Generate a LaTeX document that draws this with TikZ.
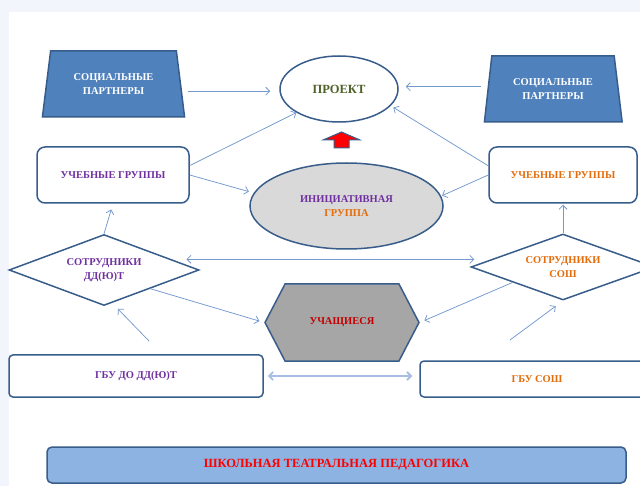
\documentclass[tikz,border=0pt]{standalone}
\usepackage{fontspec}
\setmainfont{Liberation Serif}
\usetikzlibrary{arrows.meta,shapes.geometric,shapes.symbols}
\definecolor{edgeblue}{HTML}{385D8A}
\definecolor{linkblue}{HTML}{7499CF}
\definecolor{palelink}{HTML}{A8BEE2}
\definecolor{partnerfill}{HTML}{4F81BD}
\definecolor{bannerfill}{HTML}{8DB3E2}
\definecolor{initfill}{HTML}{D9D9D9}
\definecolor{pupilfill}{HTML}{A6A6A6}
\definecolor{txtpurple}{HTML}{7030A0}
\definecolor{txtorange}{HTML}{E46C0A}
\definecolor{txtolive}{HTML}{4F6228}
\definecolor{txtred}{HTML}{C00000}
\definecolor{slidebg}{HTML}{F3F5FD}
\tikzset{
  txt/.style={font=\fontsize{10.5}{14}\selectfont\bfseries,align=center,inner sep=0pt},
  box/.style={txt,draw=edgeblue,line width=1.5pt},
  partner/.style={box,trapezium,trapezium stretches=true,fill=partnerfill,text=white},
  grpbox/.style={box,rounded corners=8pt,fill=white,minimum height=56pt},
  staff/.style={box,diamond,aspect=2.7,fill=white},
  link/.style={draw=linkblue,line width=0.75pt,-{Straight Barb[length=4pt,width=8pt]}},
  twoway/.style={link,{Straight Barb[length=4pt,width=8pt]}-{Straight Barb[length=4pt,width=8pt]}},
}

\begin{document}
\begin{tikzpicture}[x=1pt,y=-1pt]
  \clip (0,0) rectangle (640,486);
  \fill[slidebg] (0,0) rectangle (640,486);
  \fill[white] (9,12) rectangle (640,486);

  % top row
  \node[partner,trapezium left angle=76,trapezium right angle=76,
        minimum width=143pt,minimum height=66pt] (partnL) at (113.5,84) {СОЦИАЛЬНЫЕ\\ПАРТНЕРЫ};
  \node[partner,trapezium left angle=77,trapezium right angle=76,
        minimum width=138pt,minimum height=66pt] (partnR) at (553,89) {СОЦИАЛЬНЫЕ\\ПАРТНЕРЫ};
  \node[box,ellipse,fill=white,text=txtolive,font=\fontsize{12.5}{14}\selectfont\bfseries,
        minimum width=118pt,minimum height=66pt] (proekt) at (339,89) {ПРОЕКТ};

  % middle
  \node[box,ellipse,fill=initfill,minimum width=193pt,minimum height=86pt] (init) at (346.5,206)
       {\textcolor{txtpurple}{ИНИЦИАТИВНАЯ}\\\textcolor{txtorange}{ГРУППА}};
  \node[grpbox,text=txtpurple,minimum width=152pt] (ugL) at (113,175) {УЧЕБНЫЕ ГРУППЫ};
  \node[grpbox,text=txtorange,minimum width=148pt] (ugR) at (563,175) {УЧЕБНЫЕ ГРУППЫ};
  \filldraw[fill=red,draw=edgeblue,line width=1pt] (341.5,132) -- (360,140) -- (349,140) -- (349,148)
       -- (334,148) -- (334,140) -- (323,140) -- cycle;

  % staff and pupils
  \node[staff,text=txtpurple,minimum width=190pt,minimum height=71pt] (sotrL) at (104,270) {СОТРУДНИКИ\\ДД(Ю)Т};
  \node[staff,text=txtorange,minimum width=184pt,minimum height=66pt] (sotrR) at (563,267) {СОТРУДНИКИ\\СОШ};
  \node[box,signal,signal to=east and west,signal pointer angle=125,fill=pupilfill,text=txtred,
        minimum width=154pt,minimum height=77pt] (uch) at (342,322.5) {УЧАЩИЕСЯ};

  % schools
  \node[box,rounded corners=4pt,fill=white,text=txtpurple,minimum width=254pt,minimum height=42pt] (gbuL) at (136,376) {ГБУ ДО ДД(Ю)Т};
  \node[box,rounded corners=4pt,fill=white,text=txtorange,minimum width=234pt,minimum height=36pt] (gbuR) at (537,379) {ГБУ СОШ};
  \node[box,rounded corners=5pt,fill=bannerfill,text=red,font=\fontsize{12.5}{14}\selectfont\bfseries,
        minimum width=579pt,minimum height=36pt] (banner) at (336.5,465) {ШКОЛЬНАЯ ТЕАТРАЛЬНАЯ ПЕДАГОГИКА};

  \coordinate (fromL) at (149,341);
  \coordinate (fromR) at (510,340);

  % connectors
  \draw[link,shorten <=6pt,shorten >=9pt] (partnL.-6) -- (partnL.-6 -| proekt.west);
  \draw[link,shorten <=7pt,shorten >=7pt] (partnR.178) -- (partnR.178 -| proekt.east);
  \draw[link] (ugL.7) -- (proekt.209);
  \draw[link,shorten >=5pt] (ugL.east) -- (init.172);
  \draw[link,shorten >=3pt] (ugR.173) -- (proekt.-18);
  \draw[link,shorten >=1pt] (ugR.west) -- (init.6);
  \draw[link,shorten >=6pt] (sotrL.north) -- (ugL.south);
  \draw[link,shorten >=1pt] (sotrR.north) -- (ugR.south);
  \draw[twoway,shorten <=15pt,shorten >=-4pt] (sotrL.9.5) -- (sotrL.9.5 -| sotrR.west);
  \draw[link,shorten >=5pt] (sotrL.-22) -- (uch.west);
  \draw[link,shorten >=5pt] (sotrR.197) -- (uch.east);
  \draw[link,shorten >=8pt] (fromL) -- (sotrL.-76);
  \draw[link,shorten >=9pt] (fromR) -- (sotrR.south);
  \draw[twoway,draw=palelink,line width=1.8pt,shorten <=4pt,shorten >=7pt] (gbuL.east) -- (gbuL.east -| gbuR.west);
\end{tikzpicture}
\end{document}
